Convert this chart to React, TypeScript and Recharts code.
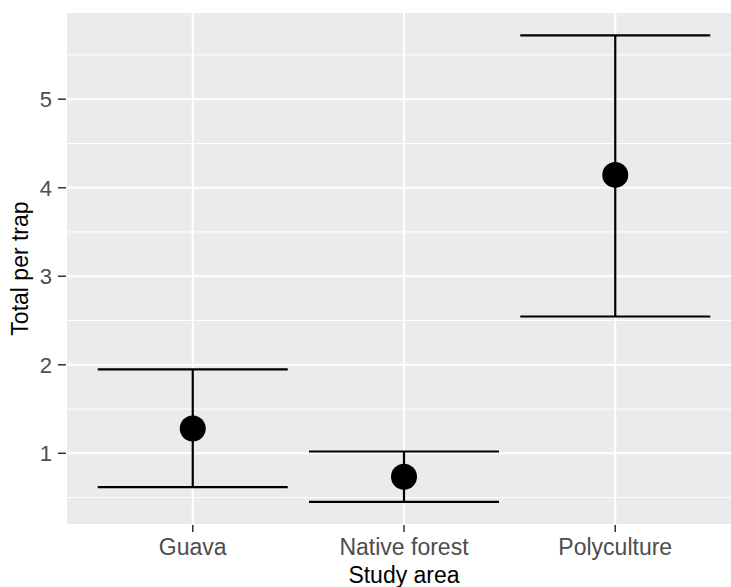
import { CartesianGrid, ComposedChart, ErrorBar, Label, Scatter, XAxis, YAxis } from "recharts";

const areas = ["Guava", "Native forest", "Polyculture"];
const means = [1.28, 0.735, 4.145];
const lowers = [0.617, 0.452, 2.545];
const uppers = [1.947, 1.02, 5.722];

const yTicks = [1, 2, 3, 4, 5];
const yMinor = [0.5, 1.5, 2.5, 3.5, 4.5, 5.5];

const data = areas.map((area, i) => ({
  pos: i + 1,
  area,
  mean: means[i],
  err: [means[i] - lowers[i], uppers[i] - means[i]]
}));

const FONT = "'Liberation Sans', Arial, sans-serif";

export default function App() {
  return (
    <div style={{ position: "fixed", left: 0, top: 0, width: 731, height: 587, overflow: "hidden", background: "#fff" }}>
      <ComposedChart width={742} height={587} data={data} margin={{ top: 12, right: 0, bottom: 0, left: 0 }}>
        <CartesianGrid fill="#ebebeb" stroke="#fff" strokeWidth={1} vertical={false} horizontalValues={yMinor} />
        <CartesianGrid fill="none" stroke="#fff" strokeWidth={2} />
        <XAxis
          dataKey="pos"
          type="number"
          domain={[0.4, 3.6]}
          ticks={[1, 2, 3]}
          allowDataOverflow
          tickFormatter={(v) => areas[v - 1]}
          height={62}
          axisLine={false}
          tickSize={7}
          tickMargin={7}
          tickLine={{ stroke: "#333", strokeWidth: 1.5 }}
          tick={{ fill: "#4d4d4d", fontSize: 23, fontFamily: FONT }}
        >
          <Label value="Study area" position="insideBottom" offset={4} fill="#000" fontSize={23} fontFamily={FONT} />
        </XAxis>
        <YAxis
          type="number"
          domain={[0.19, 5.985]}
          ticks={yTicks}
          allowDataOverflow
          width={66}
          axisLine={false}
          tickSize={8}
          tickMargin={6}
          tickLine={{ stroke: "#333", strokeWidth: 1.5 }}
          tick={{ fill: "#4d4d4d", fontSize: 22, fontFamily: FONT }}
        >
          <Label
            content={({ viewBox }: any) => {
              const cy = viewBox.y + viewBox.height / 2;
              return (
                <text
                  x={28}
                  y={cy}
                  transform={`rotate(-90 28 ${cy})`}
                  textAnchor="middle"
                  fill="#000"
                  fontSize={23}
                  fontFamily={FONT}
                >
                  Total per trap
                </text>
              );
            }}
          />
        </YAxis>
        <Scatter
          dataKey="mean"
          isAnimationActive={false}
          shape={(p: any) => <circle cx={p.cx} cy={p.cy} r={13} fill="#000" />}
        >
          <ErrorBar dataKey="err" direction="y" width={95} stroke="#000" strokeWidth={2.2} />
        </Scatter>
      </ComposedChart>
    </div>
  );
}
